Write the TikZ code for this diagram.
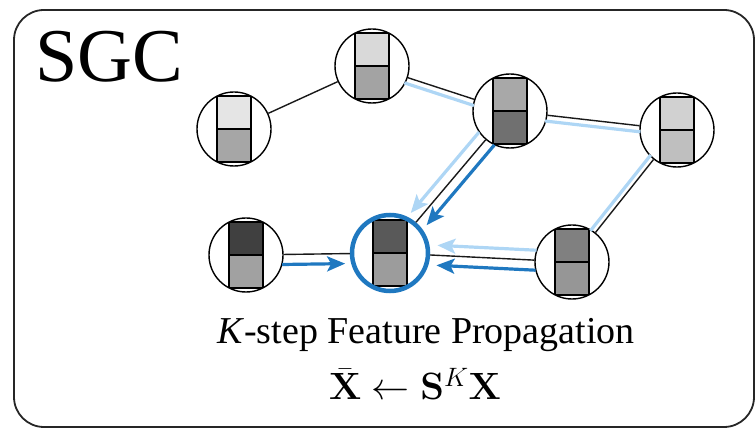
\documentclass[tikz,border=0pt]{standalone}
\usepackage{fix-cm}
\usepackage[no-math]{fontspec}
\setmainfont{Liberation Serif}
\usetikzlibrary{calc,arrows.meta}
\definecolor{lblue}{HTML}{AED6F5}
\definecolor{dblue}{HTML}{1F78C0}
\tikzset{
  gnode/.style 2 args={circle, draw=black, line width=1.4pt, minimum size=74pt, inner sep=0pt, fill=white,
    path picture={
      \fill[#1] ($(path picture bounding box.center)+(-17pt,0pt)$) rectangle ($(path picture bounding box.center)+(17pt,33pt)$);
      \fill[#2] ($(path picture bounding box.center)+(-17pt,-33pt)$) rectangle ($(path picture bounding box.center)+(17pt,0pt)$);
      \draw[black, line width=1.4pt] ($(path picture bounding box.center)+(-17pt,-33pt)$) rectangle ($(path picture bounding box.center)+(17pt,33pt)$);
      \draw[black, line width=1.4pt] ($(path picture bounding box.center)+(-17pt,0pt)$) -- ($(path picture bounding box.center)+(17pt,0pt)$);
    }},
  edge/.style={draw=black!90, line width=1.4pt},
  lb/.style={draw=lblue, line width=3.2pt},
  db/.style={draw=dblue, line width=3.2pt},
  arr/.style={-{Stealth[length=18pt,width=15pt,inset=4pt]}},
}
\begin{document}
\begin{tikzpicture}[x=1pt,y=-1pt]
\useasboundingbox (0,0) rectangle (756,430);
\draw[line width=1.8pt, rounded corners=30pt, black!85] (14,10) rectangle (754,427);

\node[gnode={black!10}{black!35}] (A) at (234,129) {};
\node[gnode={black!15}{black!36}] (B) at (372,66) {};
\node[gnode={black!34}{black!56}] (C) at (510,111) {};
\node[gnode={black!18}{black!25}] (D) at (677,130) {};
\node[gnode={black!50}{black!41}] (E) at (572,262) {};
\node[gnode={black!75}{black!37}] (F) at (246,255) {};
\node[gnode={black!65}{black!39}, draw=dblue, line width=4.5pt, minimum size=76pt] (G) at (390,253) {};

% black edges
\draw[edge] (A) -- (B);
\draw[edge] (B) -- (C);
\draw[edge] (C) -- (D);
\draw[edge] (D) -- (E);
\draw[edge] (C) -- (G);
\draw[edge] (E) -- (G);
\draw[edge] (F) -- (G);

% light parallel lines
\draw[lb, shorten <=36pt, shorten >=36pt] ($(B)!6pt!-90:(C)$) -- ($(C)!6pt!90:(B)$);
\draw[lb, shorten <=36pt, shorten >=36pt] ($(C)!6pt!-90:(D)$) -- ($(D)!6pt!90:(C)$);
\draw[lb, shorten <=36pt, shorten >=36pt] ($(D)!5pt!-90:(E)$) -- ($(E)!5pt!90:(D)$);

% arrows into G
\draw[lb, arr, shorten <=36pt, shorten >=44pt] ($(C)!10pt!-90:(G)$) -- ($(G)!10pt!90:(C)$);
\draw[db, arr, shorten <=36pt, shorten >=45pt] ($(C)!10pt!90:(G)$) -- ($(G)!10pt!-90:(C)$);
\draw[lb, arr, shorten <=36pt, shorten >=47pt] ($(E)!10pt!-90:(G)$) -- ($(G)!10pt!90:(E)$);
\draw[db, arr, shorten <=36pt, shorten >=47pt] ($(E)!10pt!90:(G)$) -- ($(G)!10pt!-90:(E)$);
\draw[db, arr, shorten <=36pt, shorten >=45pt] ($(F)!10pt!-90:(G)$) -- ($(G)!10pt!90:(F)$);

% texts
\node[anchor=base west, inner sep=0pt, font=\fontsize{76}{76}\selectfont] (title) at (35,82) {SGC};
\node[anchor=base, inner sep=0pt, font=\fontsize{38}{40}\selectfont] (cap) at (426,344) {\textit{K}-step Feature Propagation};
\node[anchor=base, inner sep=0pt, font=\fontsize{38}{40}\selectfont] (eq) at (415,400) {$\bar{\mathbf{X}}\leftarrow\mathbf{S}^{K}\mathbf{X}$};
\end{tikzpicture}
\end{document}
